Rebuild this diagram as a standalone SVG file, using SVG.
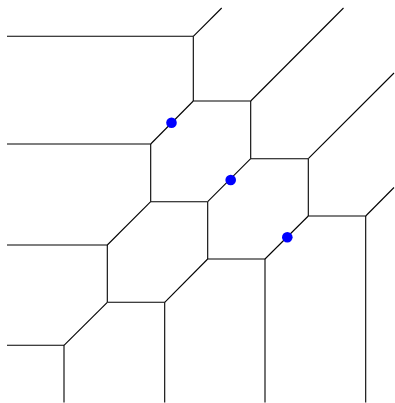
<svg xmlns="http://www.w3.org/2000/svg" width="395" height="403" viewBox="0 0 395 403">
<style>
.e{stroke:#000;stroke-width:1.1;fill:none;stroke-linecap:butt}
.p{fill:#0000ff}
</style>
<rect width="395" height="403" fill="#fff"/>
<g id="edges" class="e">
<line x1="7" y1="36.3" x2="193.3" y2="36.3"/>
<line x1="193.3" y1="36.3" x2="221.7" y2="8"/>
<line x1="193.3" y1="36.3" x2="193.3" y2="101"/>
<line x1="193.3" y1="101" x2="250.7" y2="101"/>
<line x1="250.7" y1="101" x2="343.5" y2="8"/>
<line x1="250.7" y1="101" x2="250.7" y2="158.7"/>
<line x1="193.3" y1="101" x2="150.7" y2="144"/>
<line x1="7" y1="144" x2="150.7" y2="144"/>
<line x1="150.7" y1="144" x2="150.7" y2="201.7"/>
<line x1="150.7" y1="201.7" x2="207.7" y2="201.7"/>
<line x1="250.7" y1="158.7" x2="207.7" y2="201.7"/>
<line x1="250.7" y1="158.7" x2="308.3" y2="158.7"/>
<line x1="308.3" y1="158.7" x2="394" y2="73"/>
<line x1="308.3" y1="158.7" x2="308.3" y2="216"/>
<line x1="308.3" y1="216" x2="365.7" y2="216"/>
<line x1="365.7" y1="216" x2="394" y2="187.5"/>
<line x1="365.7" y1="216" x2="365.7" y2="402.5"/>
<line x1="308.3" y1="216" x2="265" y2="259"/>
<line x1="207.7" y1="201.7" x2="207.7" y2="259"/>
<line x1="207.7" y1="259" x2="265" y2="259"/>
<line x1="265" y1="259" x2="265" y2="402.5"/>
<line x1="207.7" y1="259" x2="164.7" y2="302.3"/>
<line x1="150.7" y1="201.7" x2="107.3" y2="245"/>
<line x1="7" y1="245" x2="107.3" y2="245"/>
<line x1="107.3" y1="245" x2="107.3" y2="302.3"/>
<line x1="107.3" y1="302.3" x2="164.7" y2="302.3"/>
<line x1="164.7" y1="302.3" x2="164.7" y2="402.5"/>
<line x1="107.3" y1="302.3" x2="64" y2="345.3"/>
<line x1="7" y1="345.3" x2="64" y2="345.3"/>
<line x1="64" y1="345.3" x2="64" y2="402.5"/>
</g>
<g id="site1"><circle class="p" cx="171.5" cy="122.7" r="5.3"/></g>
<g id="site2"><circle class="p" cx="230.7" cy="180" r="5.3"/></g>
<g id="site3"><circle class="p" cx="287.3" cy="237.3" r="5.3"/></g>
</svg>
